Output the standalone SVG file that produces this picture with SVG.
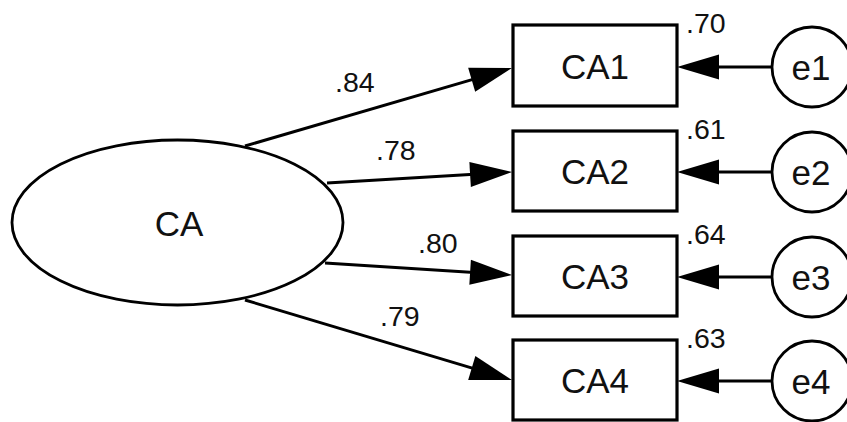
<svg xmlns="http://www.w3.org/2000/svg" width="847" height="422" viewBox="0 0 847 422">
  <style>
    .shape { fill: #fff; stroke: #000; }
    .box { stroke-width: 3.2; }
    .oval { stroke-width: 2.8; }
    .label { font-family: "Liberation Sans", Arial, sans-serif; font-size: 35px; fill: #111; text-anchor: middle; }
    .coef { font-family: "Liberation Sans", Arial, sans-serif; font-size: 28.5px; fill: #111; }
    .edge { stroke: #000; stroke-width: 3; fill: none; marker-end: url(#head); }
  </style>
  <defs>
    <marker id="head" markerUnits="userSpaceOnUse" viewBox="-5 -14 45 28" refX="0" refY="0" markerWidth="45" markerHeight="28" orient="auto">
      <path d="M-4,-12.5 L38,0 L-4,12.5 z" fill="#000"/>
    </marker>
  </defs>

  <!-- connectors -->
  <g id="connectors">
    <line class="edge" x1="245" y1="146" x2="475.5" y2="78.6"/>
    <line class="edge" x1="327" y1="183" x2="474.1" y2="174.2"/>
    <line class="edge" x1="325" y1="263" x2="474.1" y2="272.6"/>
    <line class="edge" x1="245" y1="300" x2="475.6" y2="369.1"/>
    <line class="edge" x1="772" y1="67" x2="715" y2="67"/>
    <line class="edge" x1="772" y1="172" x2="715" y2="172"/>
    <line class="edge" x1="772" y1="277" x2="715" y2="277"/>
    <line class="edge" x1="772" y1="381" x2="715" y2="381"/>
  </g>

  <!-- latent factor -->
  <g id="CA">
    <ellipse class="shape oval" cx="177.5" cy="222.5" rx="165.5" ry="82.5"/>
    <text class="label" x="179" y="236">CA</text>
  </g>

  <!-- observed indicators -->
  <g id="CA1">
    <rect class="shape box" x="513" y="25" width="164" height="81"/>
    <text class="label" x="595" y="79">CA1</text>
  </g>
  <g id="CA2">
    <rect class="shape box" x="513" y="131" width="164" height="80"/>
    <text class="label" x="595" y="184">CA2</text>
  </g>
  <g id="CA3">
    <rect class="shape box" x="513" y="236" width="164" height="80"/>
    <text class="label" x="595" y="289">CA3</text>
  </g>
  <g id="CA4">
    <rect class="shape box" x="513" y="340" width="164" height="80"/>
    <text class="label" x="595" y="393">CA4</text>
  </g>

  <!-- error terms -->
  <g id="e1">
    <circle class="shape oval" cx="812" cy="67" r="40"/>
    <text class="label" x="811" y="80">e1</text>
  </g>
  <g id="e2">
    <circle class="shape oval" cx="812" cy="172" r="40"/>
    <text class="label" x="811" y="185">e2</text>
  </g>
  <g id="e3">
    <circle class="shape oval" cx="812" cy="277" r="40"/>
    <text class="label" x="811" y="290">e3</text>
  </g>
  <g id="e4">
    <circle class="shape oval" cx="812" cy="381" r="40"/>
    <text class="label" x="811" y="394">e4</text>
  </g>

  <!-- loadings -->
  <g id="loadings">
    <text class="coef" x="335" y="92">.84</text>
    <text class="coef" x="376" y="160">.78</text>
    <text class="coef" x="418" y="253">.80</text>
    <text class="coef" x="380" y="326">.79</text>
  </g>

  <!-- squared multiple correlations -->
  <g id="r-squared">
    <text class="coef" x="686" y="33">.70</text>
    <text class="coef" x="686" y="139">.61</text>
    <text class="coef" x="686" y="244">.64</text>
    <text class="coef" x="686" y="348">.63</text>
  </g>
</svg>
